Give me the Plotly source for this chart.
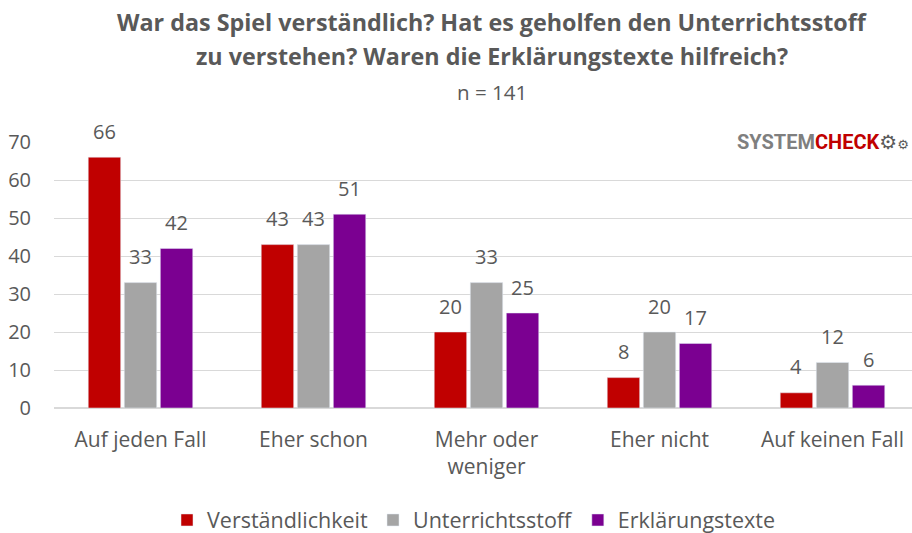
import plotly.graph_objects as go

categories = ["Auf jeden Fall", "Eher schon", "Mehr oder<br>weniger", "Eher nicht", "Auf keinen Fall"]
verstaendlichkeit = [66, 43, 20, 8, 4]
unterrichtsstoff = [33, 43, 33, 20, 12]
erklaerungstexte = [42, 51, 25, 17, 6]

series = [
    ("Verständlichkeit", verstaendlichkeit, "#c00000"),
    ("Unterrichtsstoff", unterrichtsstoff, "#a5a5a5"),
    ("Erklärungstexte", erklaerungstexte, "#7b0091"),
]

font_name = "Open Sans"
txt = "#595959"

W, H = 919, 533
L, T, B = 53.5, 142, 125
BARGAP, GROUPGAP = 0.375, 0.1

# pixel -> paper coords
def py(px):
    return (H - B - px) / (H - T - B)

def px_x(px):
    return (px - L) / (W - L)

fig = go.Figure()
for name, vals, col in series:
    fig.add_trace(go.Bar(
        x=categories, y=vals, name=name,
        marker_color=col,
    ))

# value labels above the bars (offset by the bar slot inside each group)
unit = (W - L) / len(categories)
slot = unit * (1 - BARGAP) / len(series)
for i, (name, vals, col) in enumerate(series):
    for cat, v in zip(categories, vals):
        fig.add_annotation(
            x=cat, y=v, text=str(v), showarrow=False,
            xshift=(i - 1) * slot, yshift=26, yanchor="middle",
            font=dict(size=20, color=txt),
        )

fig.update_layout(
    width=W, height=H,
    paper_bgcolor="white", plot_bgcolor="white",
    font=dict(family=font_name, color=txt),
    margin=dict(l=L, r=0, t=T, b=B),
    barmode="group", bargap=BARGAP, bargroupgap=GROUPGAP,
    showlegend=True,
    legend=dict(orientation="h", x=474 / W, xanchor="center", xref="container",
                y=1 - 520 / H, yanchor="middle", yref="container",
                font=dict(size=21.5, color=txt), traceorder="normal",
                itemwidth=30),
    yaxis=dict(range=[0, 70], dtick=10, showgrid=True, gridcolor="#d9d9d9",
               gridwidth=1, zeroline=True, zerolinecolor="#d9d9d9",
               tickfont=dict(size=20, color=txt), ticklabelstandoff=22,
               showline=False, automargin=False),
    xaxis=dict(tickfont=dict(size=21, color=txt), showline=False, ticks="",
               automargin=False, ticklabelstandoff=17),
)

title_lines = [
    "<b>War das Spiel verständlich? Hat es geholfen den Unterrichtsstoff</b>",
    "<b>zu verstehen? Waren die Erklärungstexte hilfreich?</b>",
]
for i, line in enumerate(title_lines):
    fig.add_annotation(
        text=line, xref="paper", yref="paper", x=px_x(492), xanchor="center",
        y=py(22 + 34 * i), yanchor="middle", showarrow=False,
        font=dict(size=23.3, color=txt),
    )
fig.add_annotation(
    text="n = 141", xref="paper", yref="paper", x=px_x(492), xanchor="center",
    y=py(92), yanchor="middle", showarrow=False,
    font=dict(size=20.5, color=txt),
)
fig.add_annotation(
    text="<span style='color:#7f7f7f'>SYSTEM</span><span style='color:#c00000'>CHECK</span>"
         "<span style='color:#595959;font-family:DejaVu Sans'>⚙<span style='font-size:13px'>⚙</span></span>",
    xref="paper", yref="paper", x=px_x(911), xanchor="right",
    y=py(142), yanchor="middle", showarrow=False,
    font=dict(size=20, family="Roboto", weight="bold"),
)

fig.write_html(
    "out.html",
    config={"displayModeBar": False},
    post_script="document.body.style.margin='0';document.body.style.overflow='hidden';",
)
